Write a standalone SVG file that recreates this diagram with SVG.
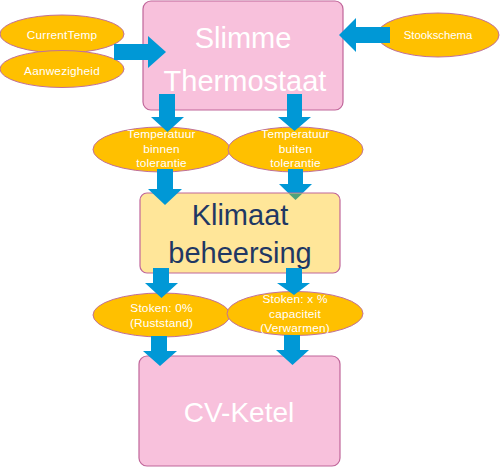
<svg xmlns="http://www.w3.org/2000/svg" width="500" height="467" viewBox="0 0 500 467">
<style>
.ell{fill:#FFC000;stroke:#C0709A;stroke-width:1}
.pbox{fill:#F8C1DC;stroke:#C0669A;stroke-width:1.2}
.ybox{fill:#FFE699;stroke:#C0669A;stroke-width:1.2}
.arr{fill:#0098D6}
.st{font-family:"Liberation Sans",Arial,sans-serif;fill:#FFFFFF;text-anchor:middle}
.sm{font-size:11.8px;letter-spacing:0.2px}
.big{font-size:29px}
.dark{fill:#1F3864}
</style>
<rect width="500" height="467" fill="#FFFFFF"/>
<g id="thermostaat">
<rect class="pbox" x="143" y="1" width="200" height="109" rx="8"/>
<text class="st big" x="243" y="48">Slimme</text>
<text class="st big" x="245" y="91">Thermostaat</text>
</g>
<g id="currenttemp">
<ellipse class="ell" cx="62" cy="34" rx="62" ry="19"/>
<text class="st sm" x="62" y="39">CurrentTemp</text>
</g>
<g id="aanwezigheid">
<ellipse class="ell" cx="62" cy="69" rx="62" ry="18.5"/>
<text class="st sm" x="62" y="75">Aanwezigheid</text>
</g>
<g id="stookschema">
<ellipse class="ell" cx="438" cy="35" rx="61" ry="22"/>
<text class="st" font-size="11.3px" x="438" y="39">Stookschema</text>
</g>
<g id="binnen">
<ellipse class="ell" cx="161.5" cy="149.5" rx="68.5" ry="22.5"/>
<text class="st sm" x="161.5" y="138">Temperatuur</text>
<text class="st sm" x="161.5" y="153">binnen</text>
<text class="st sm" x="161.5" y="167">tolerantie</text>
</g>
<g id="buiten">
<ellipse class="ell" cx="295.5" cy="149.5" rx="67.5" ry="22.5"/>
<text class="st sm" x="295.5" y="138">Temperatuur</text>
<text class="st sm" x="295.5" y="153">buiten</text>
<text class="st sm" x="295.5" y="167">tolerantie</text>
</g>
<g id="connectors-under">
<polygon class="arr" points="288,169 303,169 303,184 312,184 295.5,200 279,184 288,184"/>
</g>
<g id="klimaat">
<rect class="ybox" x="140" y="193" width="200" height="80" rx="7"/>
<polygon fill="#4FA27A" points="288.6,193.6 302.4,193.6 295.5,200"/>
<text class="st big dark" x="240" y="225">Klimaat</text>
<text class="st big dark" x="240" y="263">beheersing</text>
</g>
<g id="ruststand">
<ellipse class="ell" cx="161.5" cy="315" rx="68.5" ry="22"/>
<text class="st sm" x="161.5" y="312">Stoken: 0%</text>
<text class="st sm" x="161.5" y="327">(Ruststand)</text>
</g>
<g id="verwarmen">
<ellipse class="ell" cx="295" cy="313.5" rx="68" ry="22"/>
<text class="st sm" x="295" y="303">Stoken: x %</text>
<text class="st sm" x="295" y="318">capaciteit</text>
<text class="st sm" x="295" y="332">(Verwarmen)</text>
</g>
<g id="cvketel">
<rect class="pbox" x="139" y="356" width="201" height="110" rx="8"/>
<text class="st" font-size="28px" x="239" y="422">CV-Ketel</text>
</g>
<g id="connectors">
<polygon class="arr" points="114,44 148,44 148,36 166,52 148,68 148,60 114,60"/>
<polygon class="arr" points="390,27 356,27 356,18 339,35 356,52 356,43 390,43"/>
<polygon class="arr" points="159,94 175,94 175,117 184,117 167.5,132 151,117 159,117"/>
<polygon class="arr" points="287,94 302,94 302,117 311,117 294.5,131 278,117 287,117"/>
<polygon class="arr" points="157,169 173,169 173,189 182,189 165,205 148,189 157,189"/>
<polygon class="arr" points="153,268 169,268 169,283 178,283 161.5,298 145,283 153,283"/>
<polygon class="arr" points="286,268 302,268 302,283 310,283 294,295 277,283 286,283"/>
<polygon class="arr" points="151,336 167,336 167,351 177,351 160,366 143,351 151,351"/>
<polygon class="arr" points="284,335 300,335 300,350 309,350 292.5,365 276,350 284,350"/>
</g>
</svg>
